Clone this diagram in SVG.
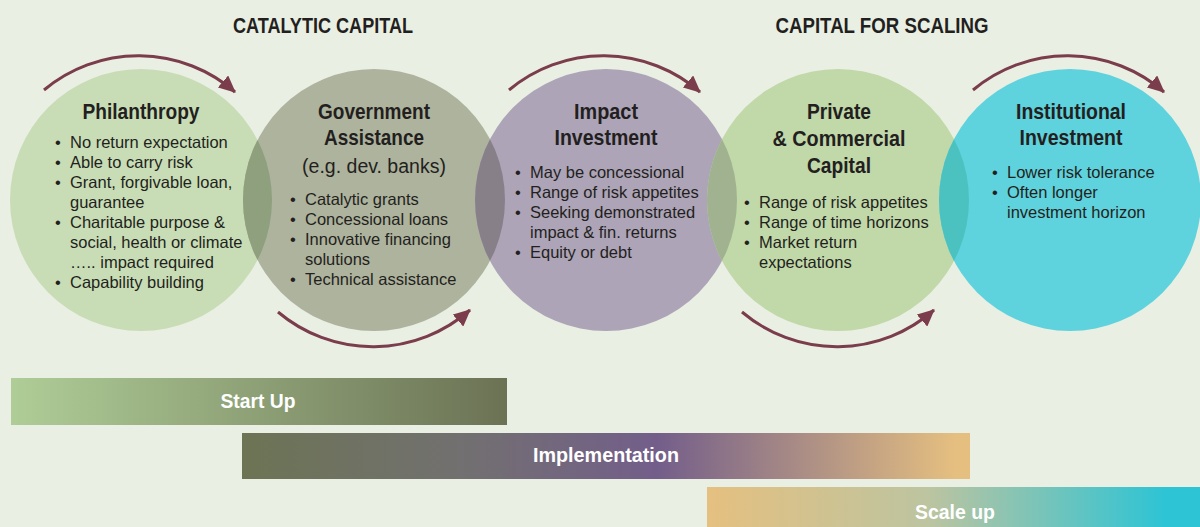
<svg xmlns="http://www.w3.org/2000/svg" width="1200" height="527" viewBox="0 0 1200 527">
  <style>
    .title { font-family: "Liberation Sans Narrow", "Liberation Sans", Arial, sans-serif; font-weight: bold; font-size: 22px; fill: #231f20; text-anchor: middle; }
    .head { font-family: "Liberation Sans Narrow", "Liberation Sans", Arial, sans-serif; font-weight: bold; font-size: 22px; fill: #231f20; text-anchor: middle; }
    .body { font-family: "Liberation Sans", Arial, sans-serif; font-size: 16.5px; fill: #231f20; }
    .sub { font-family: "Liberation Sans", Arial, sans-serif; font-size: 19.5px; fill: #231f20; text-anchor: middle; }
    .bar { font-family: "Liberation Sans Narrow", "Liberation Sans", Arial, sans-serif; font-weight: bold; font-size: 21px; fill: #ffffff; text-anchor: middle; }
    .arc { fill: none; stroke: #7b3c4b; stroke-width: 3; marker-end: url(#head); }
  </style>
  <defs>
    <marker id="head" markerUnits="userSpaceOnUse" markerWidth="18" markerHeight="16" refX="16" refY="8" orient="auto">
      <path d="M0,0 L17,8 L0,16 Z" fill="#7b3c4b"/>
    </marker>
    <clipPath id="clip1"><circle cx="141" cy="200" r="131"/></clipPath>
    <clipPath id="clip2"><circle cx="374" cy="200" r="131"/></clipPath>
    <clipPath id="clip3"><circle cx="606" cy="200" r="131"/></clipPath>
    <clipPath id="clip4"><circle cx="838" cy="200" r="131"/></clipPath>
    <linearGradient id="gStart" x1="0" y1="0" x2="1" y2="0">
      <stop offset="0" stop-color="#afcd97"/>
      <stop offset="1" stop-color="#6b7254"/>
    </linearGradient>
    <linearGradient id="gImpl" x1="0" y1="0" x2="1" y2="0">
      <stop offset="0" stop-color="#6c7454"/>
      <stop offset="0.3" stop-color="#727070"/>
      <stop offset="0.57" stop-color="#735e8a"/>
      <stop offset="0.98" stop-color="#e5bf80"/>
      <stop offset="1" stop-color="#e5bf80"/>
    </linearGradient>
    <linearGradient id="gScale" x1="0" y1="0" x2="1" y2="0">
      <stop offset="0" stop-color="#e5c080"/>
      <stop offset="0.45" stop-color="#bcc4a0"/>
      <stop offset="0.93" stop-color="#2dc4d5"/>
      <stop offset="1" stop-color="#2dc4d5"/>
    </linearGradient>
  </defs>

  <rect width="1200" height="527" fill="#e9efe3"/>

  <!-- section titles -->
  <text class="title" x="323" y="33" textLength="180" lengthAdjust="spacingAndGlyphs">CATALYTIC CAPITAL</text>
  <text class="title" x="882" y="33" textLength="213" lengthAdjust="spacingAndGlyphs">CAPITAL FOR SCALING</text>

  <!-- circles -->
  <g id="circles">
    <circle cx="141" cy="200" r="131" fill="#c8ddb5"/>
    <circle cx="374" cy="200" r="131" fill="#aeb39d"/>
    <circle cx="606" cy="200" r="131" fill="#ada4b7"/>
    <circle cx="838" cy="200" r="131" fill="#c1d8a9"/>
    <circle cx="1070" cy="200" r="131" fill="#5ed2dd"/>
    <!-- overlapping lenses -->
    <circle cx="374" cy="200" r="131" fill="#8fa07e" clip-path="url(#clip1)"/>
    <circle cx="606" cy="200" r="131" fill="#878089" clip-path="url(#clip2)"/>
    <circle cx="838" cy="200" r="131" fill="#a0b28f" clip-path="url(#clip3)"/>
    <circle cx="1070" cy="200" r="131" fill="#4cc2c0" clip-path="url(#clip4)"/>
  </g>

  <!-- flow arrows -->
  <g id="connectors">
    <path class="arc" d="M44,90 A147,147 0 0 1 235,92"/>
    <path class="arc" d="M278,312 A147,147 0 0 0 470,310"/>
    <path class="arc" d="M509,90 A147,147 0 0 1 700,92"/>
    <path class="arc" d="M742,312 A147,147 0 0 0 934,310"/>
    <path class="arc" d="M973,90 A147,147 0 0 1 1164,92"/>
  </g>

  <g id="philanthropy">
    <text class="head" x="141" y="119" textLength="117" lengthAdjust="spacingAndGlyphs">Philanthropy</text>
    <g class="body">
      <text x="55" y="148">•</text><text x="70" y="148">No return expectation</text>
      <text x="55" y="168">•</text><text x="70" y="168">Able to carry risk</text>
      <text x="55" y="188">•</text><text x="70" y="188">Grant, forgivable loan,</text>
      <text x="70" y="208">guarantee</text>
      <text x="55" y="228">•</text><text x="70" y="228">Charitable purpose &amp;</text>
      <text x="70" y="248">social, health or climate</text>
      <text x="70" y="268">….. impact required</text>
      <text x="55" y="288">•</text><text x="70" y="288">Capability building</text>
    </g>
  </g>

  <g id="government">
    <text class="head" x="374" y="119" textLength="112" lengthAdjust="spacingAndGlyphs">Government</text>
    <text class="head" x="374" y="145" textLength="100" lengthAdjust="spacingAndGlyphs">Assistance</text>
    <text class="sub" x="374" y="173">(e.g. dev. banks)</text>
    <g class="body">
      <text x="290" y="205">•</text><text x="305" y="205">Catalytic grants</text>
      <text x="290" y="225">•</text><text x="305" y="225">Concessional loans</text>
      <text x="290" y="245">•</text><text x="305" y="245">Innovative financing</text>
      <text x="305" y="265">solutions</text>
      <text x="290" y="285">•</text><text x="305" y="285">Technical assistance</text>
    </g>
  </g>

  <g id="impact">
    <text class="head" x="606" y="119" textLength="64" lengthAdjust="spacingAndGlyphs">Impact</text>
    <text class="head" x="606" y="145" textLength="103" lengthAdjust="spacingAndGlyphs">Investment</text>
    <g class="body">
      <text x="515" y="178">•</text><text x="530" y="178">May be concessional</text>
      <text x="515" y="198">•</text><text x="530" y="198">Range of risk appetites</text>
      <text x="515" y="218">•</text><text x="530" y="218">Seeking demonstrated</text>
      <text x="530" y="238">impact &amp; fin. returns</text>
      <text x="515" y="258">•</text><text x="530" y="258">Equity or debt</text>
    </g>
  </g>

  <g id="private">
    <text class="head" x="839" y="119" textLength="64" lengthAdjust="spacingAndGlyphs">Private</text>
    <text class="head" x="839" y="146" textLength="133" lengthAdjust="spacingAndGlyphs">&amp; Commercial</text>
    <text class="head" x="839" y="173" textLength="64" lengthAdjust="spacingAndGlyphs">Capital</text>
    <g class="body">
      <text x="744" y="208">•</text><text x="759" y="208">Range of risk appetites</text>
      <text x="744" y="228">•</text><text x="759" y="228">Range of time horizons</text>
      <text x="744" y="248">•</text><text x="759" y="248">Market return</text>
      <text x="759" y="268">expectations</text>
    </g>
  </g>

  <g id="institutional">
    <text class="head" x="1071" y="119" textLength="110" lengthAdjust="spacingAndGlyphs">Institutional</text>
    <text class="head" x="1071" y="145" textLength="103" lengthAdjust="spacingAndGlyphs">Investment</text>
    <g class="body">
      <text x="992" y="178">•</text><text x="1007" y="178">Lower risk tolerance</text>
      <text x="992" y="198">•</text><text x="1007" y="198">Often longer</text>
      <text x="1007" y="218">investment horizon</text>
    </g>
  </g>

  <!-- stage bars -->
  <g id="startup">
    <rect x="11" y="378" width="496" height="47" fill="url(#gStart)"/>
    <text class="bar" x="258" y="408" textLength="75" lengthAdjust="spacingAndGlyphs">Start Up</text>
  </g>
  <g id="implementation">
    <rect x="242" y="433" width="728" height="46" fill="url(#gImpl)"/>
    <text class="bar" x="606" y="462" textLength="146" lengthAdjust="spacingAndGlyphs">Implementation</text>
  </g>
  <g id="scaleup">
    <rect x="707" y="487" width="493" height="40" fill="url(#gScale)"/>
    <text class="bar" x="955" y="519" textLength="80" lengthAdjust="spacingAndGlyphs">Scale up</text>
  </g>
</svg>
